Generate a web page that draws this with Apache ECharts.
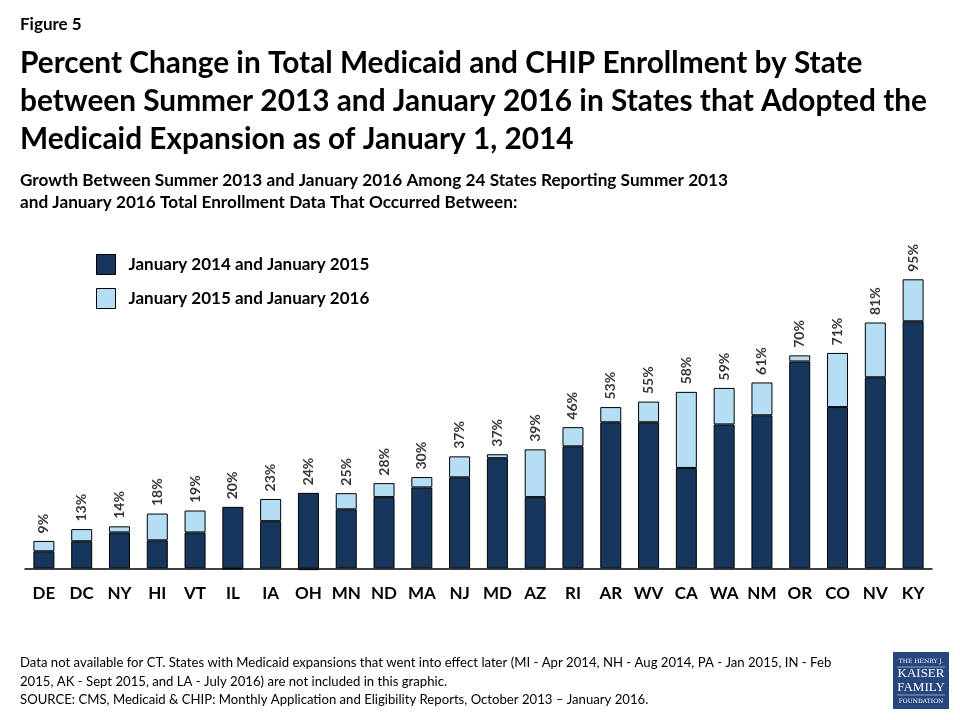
<!DOCTYPE html>
<html>
<head>
<meta charset="utf-8">
<script src="https://cdn.jsdelivr.net/npm/echarts@6/dist/echarts.min.js"></script>
<style>html,body{margin:0;padding:0;background:#fff}#c{width:960px;height:720px}</style>
</head>
<body>
<div id="c"></div>
<script>
const states = ['DE','DC','NY','HI','VT','IL','IA','OH','MN','ND','MA','NJ','MD','AZ','RI','AR','WV','CA','WA','NM','OR','CO','NV','KY'];
const jan14to15 = [5.6, 8.9, 11.8, 9.2, 11.8, 20.2, 15.5, 24.8, 19.4, 23.4, 26.6, 29.9, 36.2, 23.4, 40.1, 48.0, 48.0, 33.0, 47.3, 50.3, 68.0, 53.0, 62.8, 81.2];
const jan15to16 = [3.4, 4.0, 2.0, 8.8, 7.2, -0.3, 7.3, -0.6, 5.3, 4.6, 3.4, 6.9, 1.3, 15.7, 6.3, 5.0, 6.8, 25.0, 12.0, 10.8, 2.0, 17.8, 18.0, 13.8];
const totals = [9, 13, 14, 18, 19, 20, 23, 24, 25, 28, 30, 37, 37, 39, 46, 53, 55, 58, 59, 61, 70, 71, 81, 95];
const seriesNames = ['January 2014 and January 2015', 'January 2015 and January 2016'];

const FONT = 'Lato';
const labelAnchor = jan14to15.map((d, i) => Math.max(d, d + jan15to16[i]));

const chart = echarts.init(document.getElementById('c'), null, {renderer: 'canvas'});
function txt(text, x, y, size, weight, color) {
  return {type: 'text', x: x, y: y, style: {text: text, font: weight + ' ' + size + 'px ' + FONT, fill: color || '#000', verticalAlign: 'middle', align: 'left'}};
}
chart.setOption({
  animation: false,
  backgroundColor: '#fff',
  grid: {left: 25, right: 28, top: 264.1, bottom: 145.6, containLabel: false},
  xAxis: {
    type: 'category', data: states,
    axisTick: {show: false},
    axisLine: {lineStyle: {color: '#000', width: 1.5}},
    axisLabel: {color: '#000', fontFamily: FONT, fontWeight: 'bold', fontSize: 17, margin: 11, interval: 0}
  },
  yAxis: {type: 'value', min: -2, max: 100, show: false, splitLine: {show: false}},
  legend: {
    data: seriesNames, orient: 'vertical', left: 91, top: 249, itemWidth: 19, itemHeight: 20, itemGap: 13,
    icon: 'rect',
    itemStyle: {borderColor: '#000', borderWidth: 1},
    textStyle: {color: '#000', fontFamily: FONT, fontWeight: 'bold', fontSize: 17, padding: [0, 0, 0, 8]}
  },
  series: [
    {name: seriesNames[0], type: 'bar', stack: 'a', data: jan14to15, barWidth: 21,
     itemStyle: {color: '#17365D', borderColor: '#000', borderWidth: 1}},
    {name: seriesNames[1], type: 'bar', stack: 'a', data: jan15to16, barWidth: 21,
     itemStyle: {color: '#B3DEF3', borderColor: '#000', borderWidth: 1}},
    {name: 'labels', type: 'scatter', data: labelAnchor, symbolSize: 1, itemStyle: {color: 'transparent'},
     label: {show: true, position: 'top', distance: 7, rotate: 90, align: 'left', verticalAlign: 'middle',
       color: '#000', fontFamily: FONT, fontWeight: 'bold', fontSize: 14,
       formatter: p => totals[p.dataIndex] + '%'}}
  ],
  graphic: [
    txt('Figure 5', 20, 25, 17, 'bold'),
    txt('Percent Change in Total Medicaid and CHIP Enrollment by State', 20, 63, 29.8, 'bold'),
    txt('between Summer 2013 and January 2016 in States that Adopted the', 20, 101, 29.8, 'bold'),
    txt('Medicaid Expansion as of January 1, 2014', 20, 139, 29.8, 'bold'),
    txt('Growth Between Summer 2013 and January 2016 Among 24 States Reporting Summer 2013', 20, 180, 17.2, 'bold'),
    txt('and January 2016 Total Enrollment Data That Occurred Between:', 20, 202, 17.2, 'bold'),
    txt('Data not available for CT. States with Medicaid expansions that went into effect later (MI - Apr 2014, NH - Aug 2014, PA - Jan 2015, IN - Feb', 20, 663, 13.15, 'normal'),
    txt('2015, AK - Sept 2015, and LA - July 2016) are not included in this graphic.', 20, 682, 13.15, 'normal'),
    txt('SOURCE: CMS, Medicaid & CHIP: Monthly Application and Eligibility Reports, October 2013 \u2013 January 2016.', 20, 700, 13.15, 'normal'),
    {type: 'rect', shape: {x: 893, y: 652, width: 56, height: 57}, style: {fill: '#27467E'}},
    {type: 'text', x: 921, y: 661, style: {text: 'THE HENRY J.', font: '6px "DejaVu Serif"', fill: '#fff', align: 'center', verticalAlign: 'middle'}},
    {type: 'text', x: 921, y: 674, style: {text: 'KAISER', font: '13px "Liberation Serif"', fill: '#fff', align: 'center', verticalAlign: 'middle'}},
    {type: 'text', x: 921, y: 688, style: {text: 'FAMILY', font: '13px "Liberation Serif"', fill: '#fff', align: 'center', verticalAlign: 'middle'}},
    {type: 'text', x: 921, y: 701, style: {text: 'FOUNDATION', font: '6px "DejaVu Serif"', fill: '#fff', align: 'center', verticalAlign: 'middle'}},
    {type: 'line', shape: {x1: 897, y1: 667, x2: 945, y2: 667}, style: {stroke: '#fff', lineWidth: 0.5}},
    {type: 'line', shape: {x1: 897, y1: 695, x2: 945, y2: 695}, style: {stroke: '#fff', lineWidth: 0.5}}
  ]
});
</script>
</body>
</html>
